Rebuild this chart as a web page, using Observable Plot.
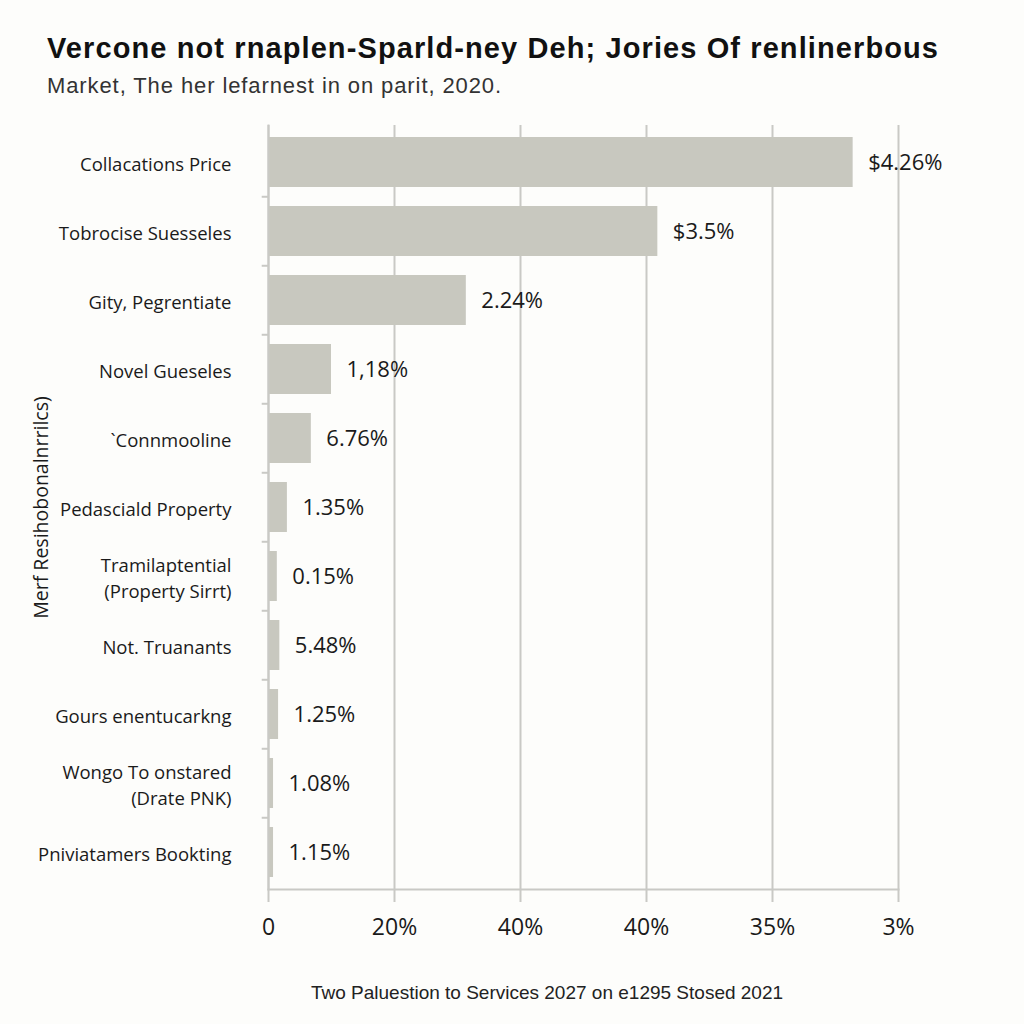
<!DOCTYPE html>
<html><head><meta charset="utf-8">
<script src="https://cdn.jsdelivr.net/npm/d3@7"></script>
<script src="https://cdn.jsdelivr.net/npm/@observablehq/plot@0.6"></script>
<style>
body{margin:0;background:#fdfdfb;width:1024px;height:1024px;overflow:hidden;font-family:"Liberation Sans",Arial,sans-serif;position:relative;}
#title{position:absolute;left:47px;top:32px;font-size:29px;letter-spacing:1.1px;font-weight:bold;color:#111;white-space:nowrap;}
#subtitle{position:absolute;left:47px;top:73px;font-size:22px;letter-spacing:0.9px;color:#333;white-space:nowrap;}
#chart{position:absolute;left:0;top:110px;}
#caption{position:absolute;left:0;width:1094px;top:982px;text-align:center;font-size:19px;color:#222;font-family:"Liberation Sans",Arial,sans-serif;}
</style>
</head><body>
<div id="title">Vercone not rnaplen-Sparld-ney Deh; Jories Of renlinerbous</div>
<div id="subtitle">Market, The her lefarnest in on parit, 2020.</div>
<div id="chart"></div>
<div id="caption">Two Paluestion to Services 2027 on e1295 Stosed 2021</div>
<script>
const categories = ["Collacations Price","Tobrocise Suesseles","Gity, Pegrentiate","Novel Gueseles","`Connmooline","Pedasciald Property","Tramilaptential\n(Property Sirrt)","Not. Truanants","Gours enentucarkng","Wongo To onstared\n(Drate PNK)","Pniviatamers Bookting"];
const values = [46.4, 30.9, 15.7, 5.0, 3.4, 1.5, 0.7, 0.9, 0.8, 0.4, 0.4];
const valueLabels = ["$4.26%","$3.5%","2.24%","1,18%","6.76%","1.35%","0.15%","5.48%","1.25%","1.08%","1.15%"];
const xTickValues = [0, 10, 20, 30, 40, 50];
const xTickLabels = ["0","20%","40%","40%","35%","3%"];
const yTitle = "Merf Resihobonalnrrilcs)";

const data = categories.map((c, i) => ({category: c, value: values[i], label: valueLabels[i]}));

const H = 850, mT = 15, mB = 71;
const step = (H - mT - mB) / categories.length;
const grey = "#c9c9c5";

const chart = Plot.plot({
  width: 1024, height: H,
  marginLeft: 268, marginRight: 126, marginTop: mT, marginBottom: mB,
  style: {background: "transparent", fontFamily: "'Open Sans', sans-serif", color: "#1a1a1a"},
  x: {domain: [0, 50]},
  y: {domain: categories, paddingInner: 0.28, paddingOuter: 0.14},
  marks: [
    Plot.gridX(xTickValues, {stroke: grey, strokeOpacity: 1, strokeWidth: 2}),
    Plot.barX(data, {x: "value", y: "category", fill: "#c8c8bf"}),
    Plot.frame({anchor: "bottom", stroke: grey, strokeWidth: 2}),
    Plot.frame({anchor: "left", stroke: grey, strokeWidth: 2}),
    Plot.ruleY(categories.slice(1), {y: d => d, x1: -0.5, x2: 0, dy: -step / 2, stroke: grey, strokeWidth: 2}),
    Plot.axisX({ticks: xTickValues, tickFormat: (d, i) => xTickLabels[i], tickSize: 13, tickPadding: 16,
      fontSize: 23, stroke: grey, strokeWidth: 2, strokeOpacity: 1, label: null}),
    Plot.axisY({tickSize: 0, tickPadding: 37, fontSize: 18.5, lineHeight: 1.45, label: null}),
    Plot.axisY({ticks: [], tickSize: 0, fontSize: 19.5, label: yTitle, labelAnchor: "center",
      labelOffset: 234, labelArrow: "none"}),
    Plot.text(data, {x: "value", y: "category", text: "label", dx: 15, textAnchor: "start", fontSize: 22, fill: "#1a1a1a"})
  ]
});
document.getElementById("chart").append(chart);
</script>
</body></html>
